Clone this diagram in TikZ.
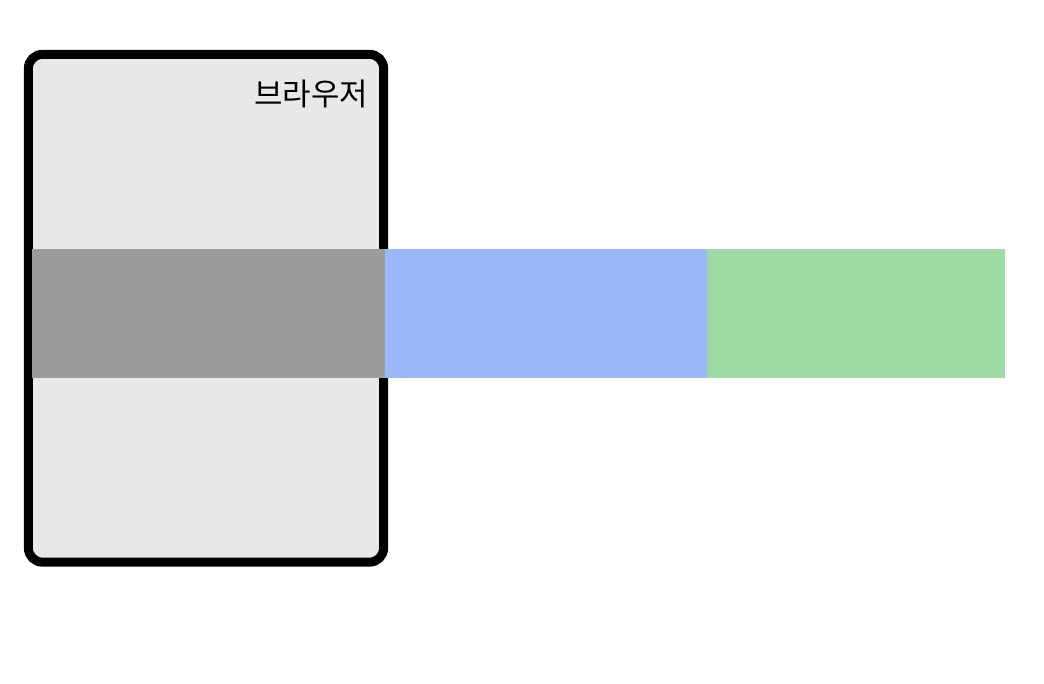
\documentclass[tikz,border=0pt]{standalone}
\usepackage{fontspec}
\newfontfamily\krfont{Noto Sans CJK KR}
\usepackage{tikz}
\usetikzlibrary{positioning}
\definecolor{boxgray}{HTML}{E8E8E8}
\definecolor{bargray}{HTML}{9C9C9C}
\definecolor{barblue}{HTML}{9CB7F8}
\definecolor{bargreen}{HTML}{9EDBA4}

\begin{document}
\begin{tikzpicture}[x=0.01cm,y=-0.01cm,
  barpart/.style={inner sep=0pt,outer sep=0pt,minimum height=1.29cm}]
\useasboundingbox (0,0) rectangle (1044,684);

% browser window
\node[draw,fill=boxgray,line width=0.09cm,rounded corners=0.14cm,
  minimum width=3.55cm,minimum height=5.075cm,inner sep=0pt] (browser) at (206,308.25) {};
\node[anchor=north east,inner sep=0pt,font=\krfont\fontsize{8.8}{10}\selectfont] (label) at (369,79) {브라우저};

% bar
\node[barpart,fill=bargray,minimum width=3.53cm,anchor=north west] (gray) at (32,249) {};
\node[barpart,fill=barblue,minimum width=3.22cm,right=0pt of gray] (blue) {};
\node[barpart,fill=bargreen,minimum width=2.97cm,right=0pt of blue] (green) {};

\end{tikzpicture}
\end{document}
